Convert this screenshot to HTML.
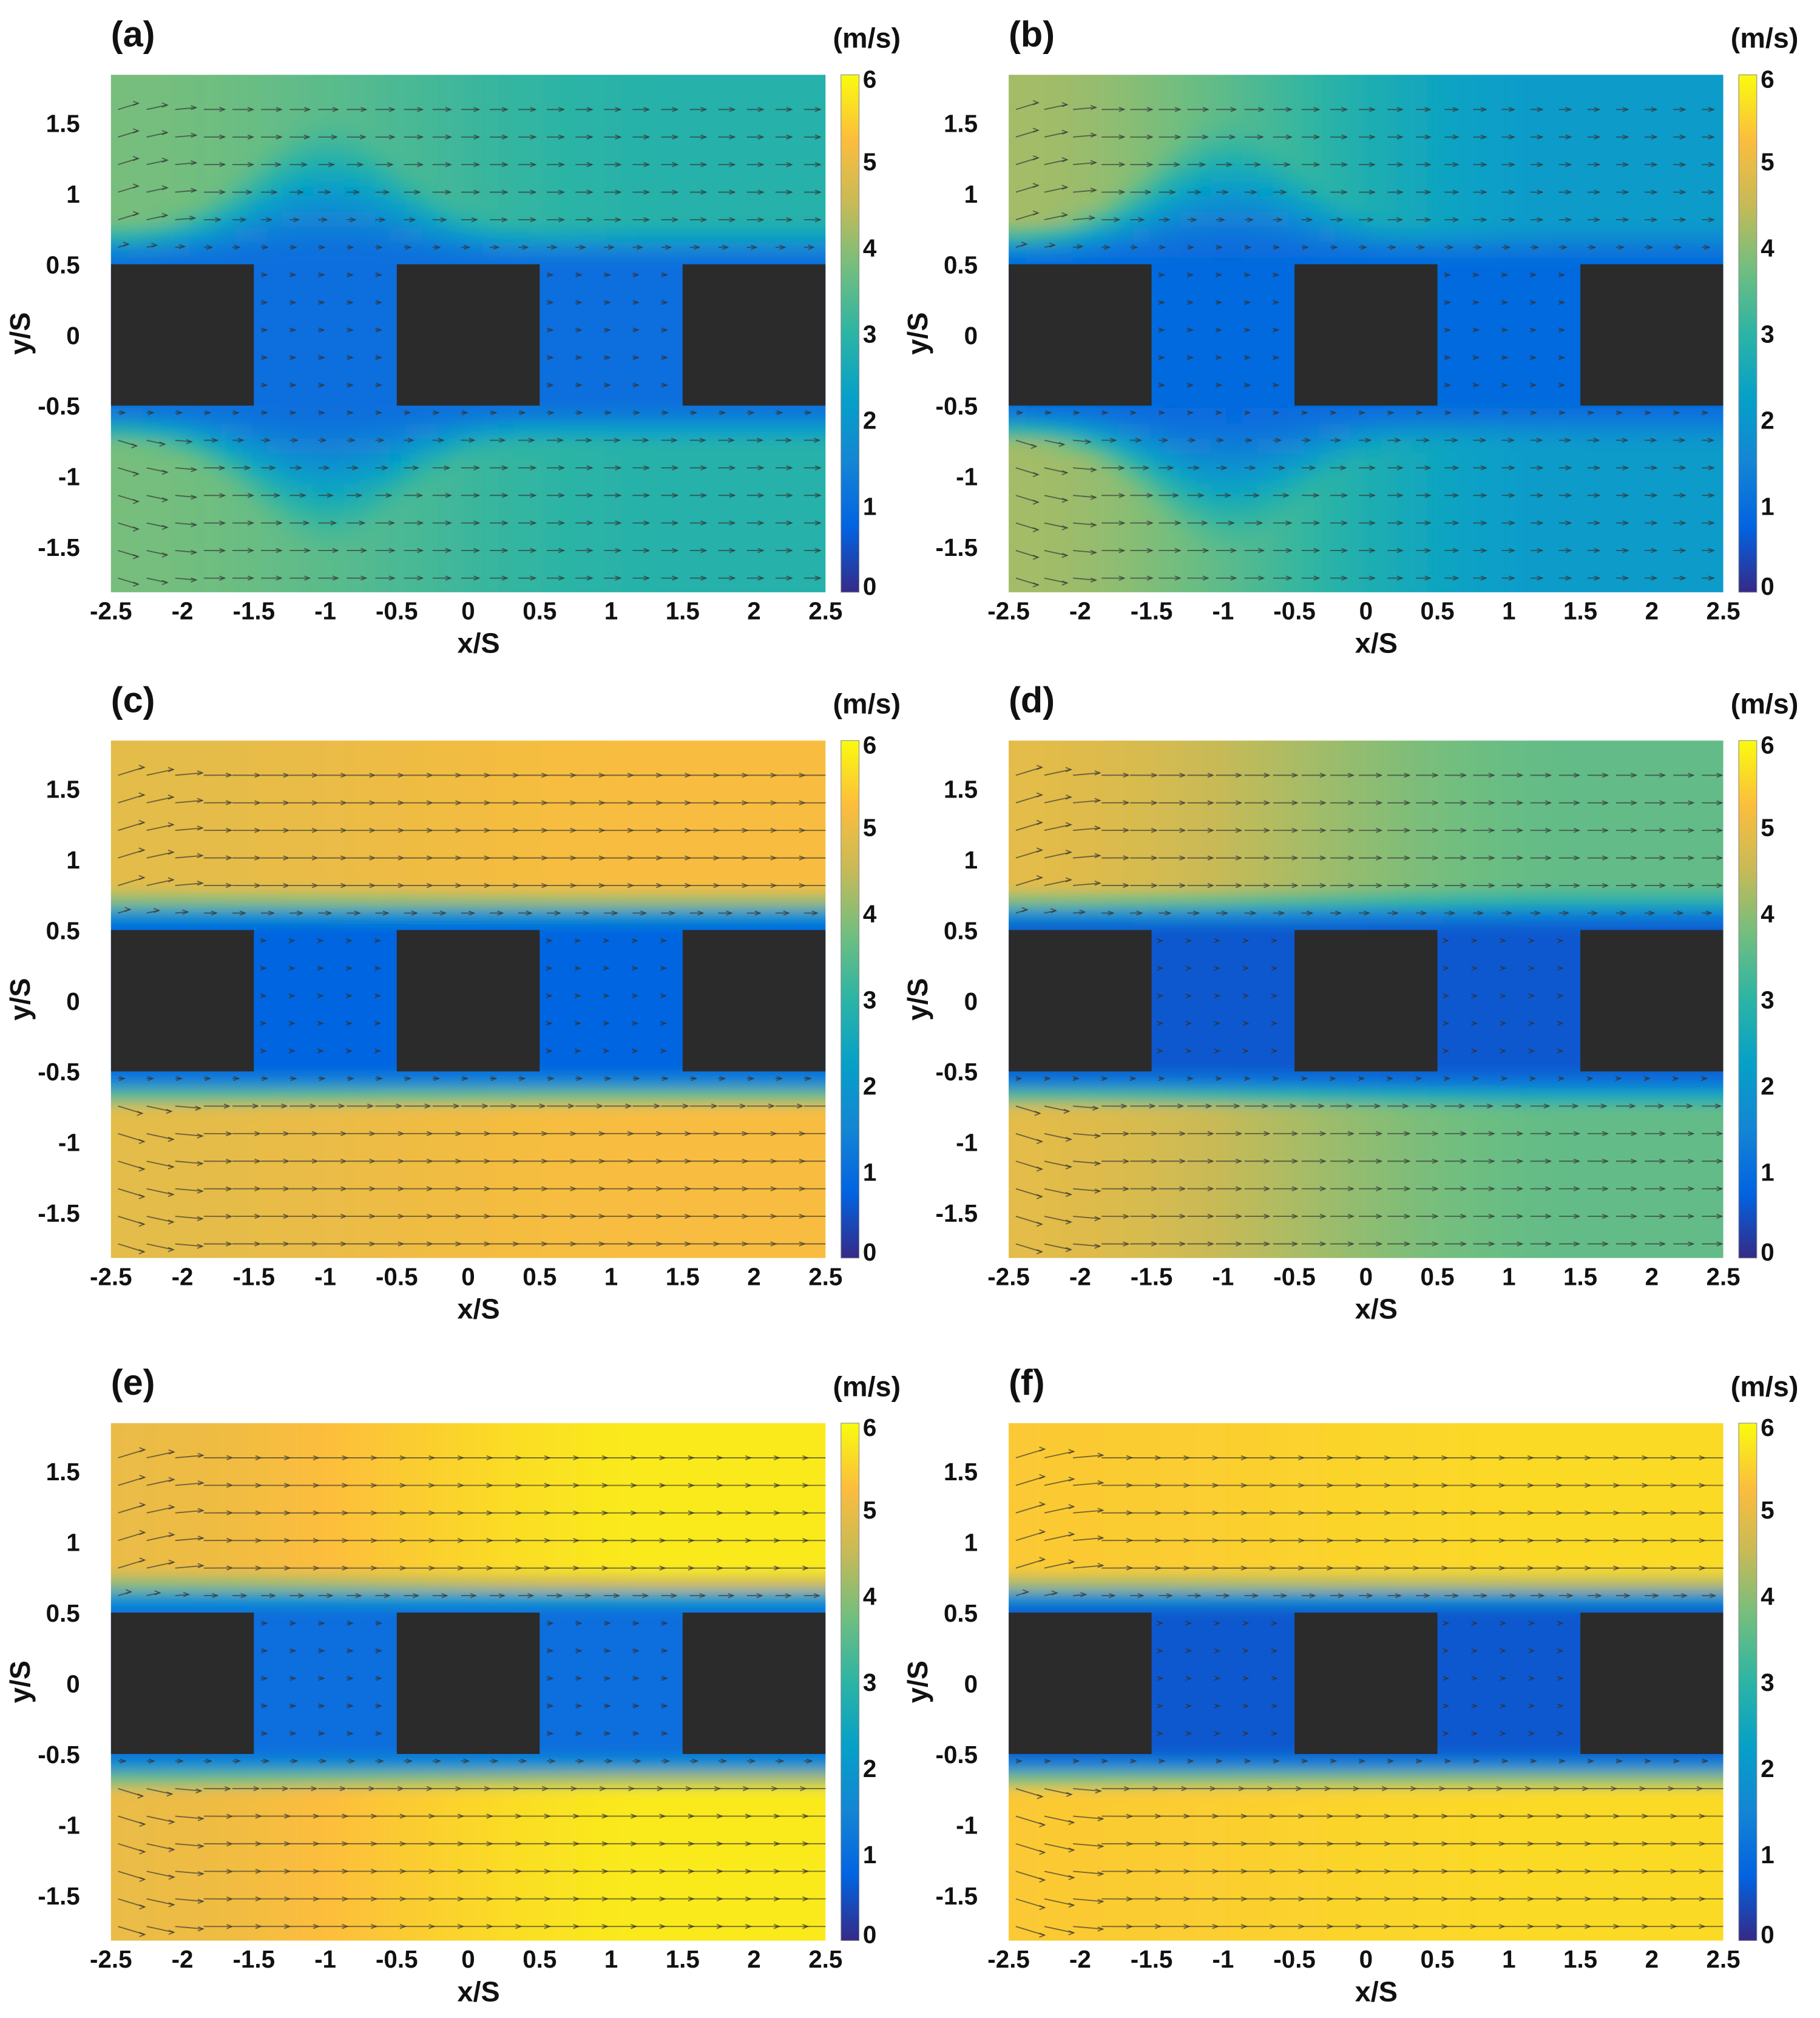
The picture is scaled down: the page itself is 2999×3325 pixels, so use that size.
<!DOCTYPE html>
<html><head><meta charset="utf-8">
<style>
html,body{margin:0;padding:0;background:#fff;}
svg{display:block;}
text{font-family:"Liberation Sans",sans-serif;font-weight:bold;fill:#111;}
</style></head>
<body>
<svg id="fig" width="2999" height="3325" viewBox="0 0 1411 1564" preserveAspectRatio="none" xmlns="http://www.w3.org/2000/svg">
<defs>
<linearGradient id="cbgrad" x1="0" y1="1" x2="0" y2="0">
<stop offset="0" stop-color="rgb(53,42,135)"/><stop offset="0.125" stop-color="rgb(2,99,225)"/>
<stop offset="0.25" stop-color="rgb(20,133,212)"/><stop offset="0.375" stop-color="rgb(6,160,200)"/>
<stop offset="0.5" stop-color="rgb(44,180,165)"/><stop offset="0.625" stop-color="rgb(113,190,127)"/>
<stop offset="0.75" stop-color="rgb(199,186,87)"/><stop offset="0.875" stop-color="rgb(252,189,61)"/>
<stop offset="1" stop-color="rgb(249,251,14)"/></linearGradient>
<filter id="blur" x="-0.1" y="-0.1" width="1.2" height="1.2"><feGaussianBlur stdDeviation="5"/></filter>
</defs>
</svg>
<script>
const panelLabels=['(a)','(b)','(c)','(d)','(e)','(f)'];
const leftSpeed=[3.8,4.2,4.9,4.9,5.0,5.4];
const rightSpeed=[2.9,2.1,5.2,3.6,5.8,5.6];
const wakeSpeed=[1.0,0.9,0.8,0.6,1.0,0.6];
const funnel=[1,1,0,0,0,0];
const xTicks=[-2.5,-2,-1.5,-1,-0.5,0,0.5,1,1.5,2,2.5];
const xTickLabels=['-2.5','-2','-1.5','-1','-0.5','0','0.5','1','1.5','2','2.5'];
const yTicks=[1.5,1,0.5,0,-0.5,-1,-1.5];
const yTickLabels=['1.5','1','0.5','0','-0.5','-1','-1.5'];
const cbTicks=[0,1,2,3,4,5,6];
const blockX=[[-2.5,-1.5],[-0.5,0.5],[1.5,2.5]];
const blockY=[-0.5,0.5];

const NS='http://www.w3.org/2000/svg';
const svg=document.getElementById('fig');
const OX=[86,782], OY=[58,574,1103], W=554, H=401;
const YMAX=1.84, YMIN=-1.82;
const stops=[[0,[53,42,135]],[0.125,[2,99,225]],[0.25,[20,133,212]],[0.375,[6,160,200]],[0.5,[44,180,165]],[0.625,[113,190,127]],[0.75,[199,186,87]],[0.875,[252,189,61]],[1,[249,251,14]]];
function cmap(v){let t=Math.max(0,Math.min(1,v/6));for(let i=1;i<stops.length;i++){if(t<=stops[i][0]){const a=stops[i-1],b=stops[i];const f=(t-a[0])/(b[0]-a[0]);const c=a[1].map((x,k)=>Math.round(x+(b[1][k]-x)*f));return `rgb(${c[0]},${c[1]},${c[2]})`;}}return 'rgb(249,251,14)';}
function el(tag,attrs,parent){const e=document.createElementNS(NS,tag);for(const k in attrs)e.setAttribute(k,attrs[k]);(parent||svg).appendChild(e);return e;}
function txt(s,attrs,parent){const e=el('text',attrs,parent);e.textContent=s;return e;}
function ss(a,b,x){let t=Math.max(0,Math.min(1,(x-a)/(b-a)));return t*t*(3-2*t);}
const defs=svg.querySelector('defs');

for(let p=0;p<6;p++){
  const ox=OX[p%2], oy=OY[Math.floor(p/2)];
  const sx=x=>ox+(x+2.5)/5*W;
  const sy=y=>oy+(YMAX-y)/(YMAX-YMIN)*H;
  const cp=el('clipPath',{id:'clip'+p},defs);
  el('rect',{x:ox,y:oy,width:W,height:H},cp);
  const g=el('g',{});
  
  
  const L=leftSpeed[p],R=rightSpeed[p],Wk=wakeSpeed[p];
  function field(x,y){
    const outer=L+(R-L)*ss(-2.5,1.5,x);
    let width=0.3;
    if(funnel[p]){const b=Math.exp(-Math.pow((x+1)/0.7,2));width+=0.8*b;}
    const d=Math.abs(y)-0.5;
    if(d<0)return Wk;
    return Wk+(outer-Wk)*ss(0,width,d);
  }
  const inner=el('g',{'clip-path':'url(#clip'+p+')'},g);
  const fg=el('g',{filter:'url(#blur)'},inner);
  
  
  const nx=50,ny=38;
  const x0=-2.7,x1=2.7,y0=YMAX+0.2,y1=YMIN-0.2;
  for(let i=0;i<nx;i++)for(let j=0;j<ny;j++){
    const x=x0+(i+0.5)*(x1-x0)/nx, y=y0-(j+0.5)*(y0-y1)/ny;
    const cx=Math.max(-2.5,Math.min(2.5,x)), cy=Math.max(YMIN,Math.min(YMAX,y));
    el('rect',{x:sx(x-(x1-x0)/nx/2)-0.5,y:sy(y+(y0-y1)/ny/2)-0.5,width:W*(x1-x0)/5/nx+1,height:H*(y0-y1)/(YMAX-YMIN)/ny+1,fill:cmap(field(cx,cy))},fg);
  }
  const ag=el('g',{stroke:'#333','stroke-opacity':'0.65','stroke-width':'0.9',fill:'none'},inner);
  
  
  for(let y=-1.72;y<=1.75;y+=0.195){
    for(let x=-2.45;x<2.45;x+=0.2){
      const inBlock=Math.abs(y)<0.5&&blockX.some(b=>x>b[0]&&x<b[1]);
      if(inBlock)continue;
      const v=field(x,y);
      let len=Math.min(26,v*4.3);
      let ang=0;
      if(x<-1.8&&Math.abs(y)>0.55)ang=(y>0?1:-1)*0.3*(1-ss(-2.5,-1.8,x));
      const ax=sx(x),ay=sy(y),bx=ax+len*Math.cos(ang),by=ay-len*Math.sin(ang);
      el('line',{x1:ax,y1:ay,x2:bx,y2:by},ag);
      el('path',{d:`M${bx-4},${by-1.6} L${bx},${by} L${bx-4},${by+1.6}`},ag);
    }
  }
  blockX.forEach((b,k)=>{
    const r=el('rect',{x:sx(b[0]),y:sy(blockY[1]),width:sx(b[1])-sx(b[0]),height:sy(blockY[0])-sy(blockY[1]),fill:'#2b2b2b'},inner);
    
    
  });
  xTicks.forEach((t,k)=>{
    const e=txt(xTickLabels[k],{x:sx(t),y:oy+H+21,'font-size':19,'text-anchor':'middle'},g);
    
    
  });
  yTicks.forEach((t,k)=>{
    const e=txt(yTickLabels[k],{x:ox-24,y:sy(t)+7,'font-size':19,'text-anchor':'end'},g);
    
    
  });
  const xt=txt('x/S',{x:ox+W/2+8,y:oy+H+47,'font-size':22,'text-anchor':'middle'},g);
  
  
  const yt=txt('y/S',{x:0,y:0,'font-size':22,'text-anchor':'middle',transform:`translate(${ox-63},${oy+H/2}) rotate(-90)`},g);
  
  
  const pl=txt(panelLabels[p],{x:ox,y:oy-22,'font-size':28},g);
  
  
  const cx=ox+566;
  const cb=el('rect',{x:cx,y:oy,width:14,height:H,fill:'url(#cbgrad)',stroke:'#888','stroke-width':'0.5'},g);
  
  
  cbTicks.forEach(t=>{
    const yy=oy+H-t/6*H;
    const e=txt(String(t),{x:cx+17,y:yy+(t===6?10:t===0?2:7),'font-size':19},g);
    
    
  });
  const u=txt('(m/s)',{x:cx+20,y:oy-21,'font-size':22,'text-anchor':'middle'},g);
  
  
}
</script>
</body></html>
